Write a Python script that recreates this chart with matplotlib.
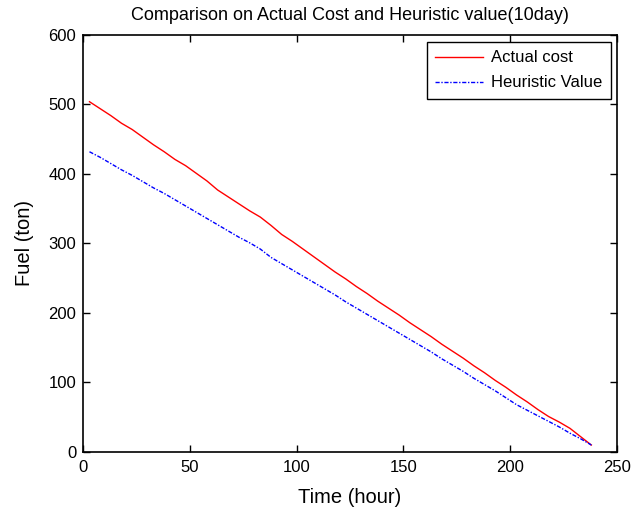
import numpy as np
import matplotlib
matplotlib.use("Agg")
from matplotlib import pyplot as plt

plt.rcParams['font.family'] = ['Liberation Sans', 'DejaVu Sans']

# data (hour, fuel in ton)
hours = [3, 8, 13, 18, 23, 28, 33, 38, 43, 48, 53, 58, 63, 68, 73, 78,
         83, 88, 93, 98, 103, 108, 113, 118, 123, 128, 133, 138, 143, 148,
         153, 158, 163, 168, 173, 178, 183, 188, 193, 198, 203, 208, 213,
         218, 223, 228, 233, 238]
actual_cost = [504, 494, 484, 473, 464, 453, 442, 432, 421, 412, 401, 390,
               377, 367, 357, 347, 338, 326, 313, 303, 292, 281, 270, 259,
               249, 238, 228, 217, 207, 197, 186, 176, 166, 155, 145, 135,
               124, 114, 103, 93, 82, 72, 61, 51, 43, 34, 22, 10]
heuristic = [432, 424, 415, 406, 398, 389, 380, 372, 363, 354, 345, 336,
             327, 318, 309, 301, 292, 280, 271, 262, 253, 244, 235, 226,
             216, 207, 198, 189, 180, 171, 162, 153, 144, 134, 125, 116,
             106, 97, 88, 78, 68, 60, 52, 44, 36, 27, 19, 10]

fig = plt.figure(figsize=(6.44, 5.11), dpi=100)
ax = fig.add_axes([0.129, 0.1155, 0.829, 0.816])

ax.plot(hours, actual_cost, color='red', lw=1.0, label='Actual cost')
ax.plot(hours, heuristic, color='blue', lw=1.0, ls=(0, (3, 1.2, 1, 1.2)),
        label='Heuristic Value')

ax.set_xlim(0, 250)
ax.set_ylim(0, 600)
ax.set_xticks(np.arange(0, 251, 50))
ax.set_yticks(np.arange(0, 601, 100))
ax.tick_params(direction='in', top=True, right=True, length=5, width=1, labelsize=12)
ax.tick_params(axis='x', pad=6)
ax.tick_params(axis='y', pad=5)
for s in ax.spines.values():
    s.set_linewidth(1.2)

ax.set_title('Comparison on Actual Cost and Heuristic value(10day)', fontsize=13, pad=11)
ax.set_xlabel('Time (hour)', fontsize=14.5, labelpad=9)
ax.set_ylabel('Fuel (ton)', fontsize=14.5, labelpad=10)

leg = ax.legend(loc='upper right', fontsize=12, fancybox=False, framealpha=1,
                edgecolor='black', handlelength=2.9, borderpad=0.5,
                labelspacing=0.6, handletextpad=0.45, borderaxespad=0,
                bbox_to_anchor=(0.988, 0.983))
leg.get_frame().set_linewidth(1.0)

fig.savefig('out.png', dpi=100)
